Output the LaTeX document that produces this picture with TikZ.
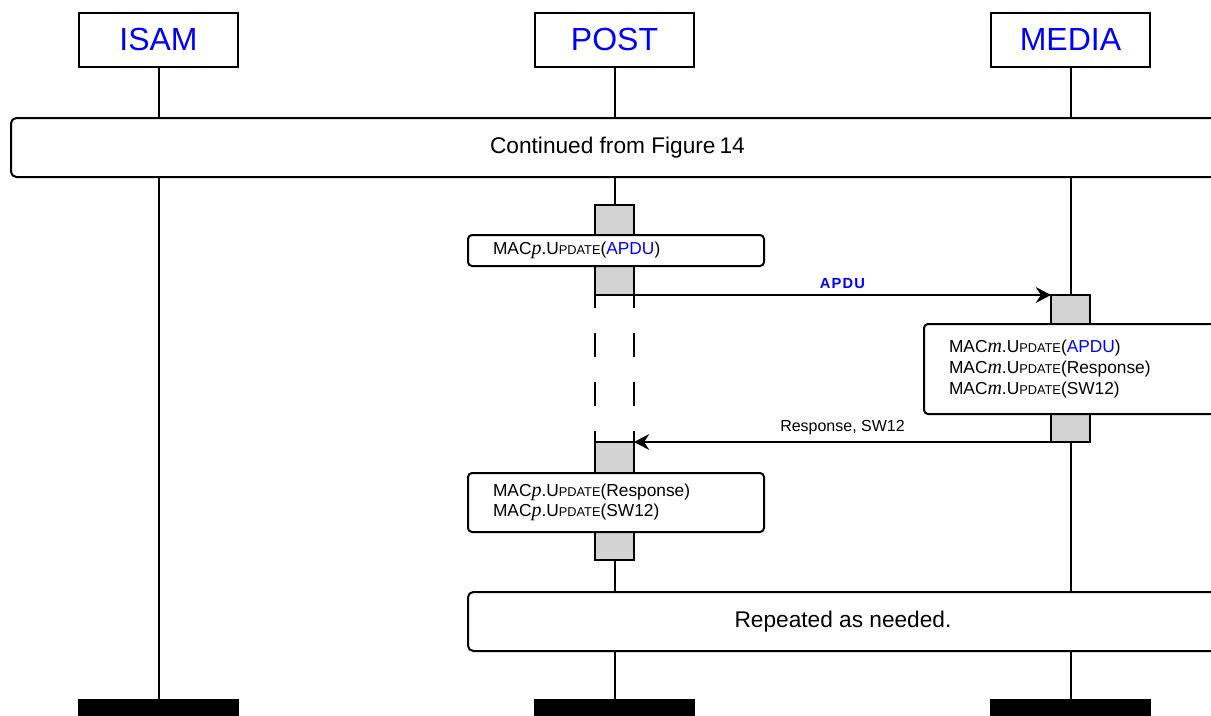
\documentclass[tikz,border=0pt]{standalone}
\usepackage{fontspec}
\setmainfont{Liberation Sans}
\newfontfamily\symfont{Liberation Serif}
\usetikzlibrary{arrows.meta}
\definecolor{hdrblue}{RGB}{0,0,255}
\definecolor{actgray}{RGB}{211,211,211}

% small caps faked with a smaller size (the sans font has no small caps)
\newcommand{\Upd}{U{\fontsize{9.6}{10}\selectfont PDATE}}
\newcommand{\ivar}[1]{{\symfont\itshape\fontsize{15}{15}\selectfont #1}}
\newcommand{\MACp}{MAC\ivar{p}.\Upd}
\newcommand{\MACm}{MAC\ivar{m}.\Upd}

\begin{document}
\begin{tikzpicture}[x=0.75pt,y=-0.75pt,line width=1.5pt,
  head/.style={draw,fill=white,inner sep=0pt,minimum width=119.25pt,minimum height=40.5pt,
    text=hdrblue,font=\fontsize{24}{28}\selectfont},
  endbar/.style={draw,fill=black,inner sep=0pt,minimum width=119.25pt,minimum height=24pt,anchor=north},
  wide/.style={draw,fill=white,rounded corners=4pt,inner sep=0pt,anchor=north west,
    minimum height=44.25pt,font=\fontsize{17}{20}\selectfont},
  note/.style={draw,fill=white,rounded corners=3pt,anchor=north west,align=left,
    inner xsep=18.75pt,inner ysep=0pt,font=\fontsize{13}{15.5}\selectfont},
  act/.style={draw,fill=actgray,inner sep=0pt,outer sep=0pt,minimum width=29.25pt,anchor=north},
  msg/.style={-{Stealth[length=11.5pt,width=12pt,inset=4pt]},line width=1.5pt},
  lbl/.style={font=\fontsize{12}{14}\selectfont,above=1pt}
]
\useasboundingbox (0,0) rectangle (1211,715);
\clip (0,0) rectangle (1211,715);

% lifeline heads and ends
\node[head] (isam)  at (158.5,39.5) {ISAM};
\node[head] (post)  at (614.5,39.5) {POST};
\node[head] (media) at (1070.5,39.5) {MEDIA};
\node[endbar] (isamend)  at (158.5,699) {};
\node[endbar] (postend)  at (614.5,699) {};
\node[endbar] (mediaend) at (1070.5,699) {};

% activation bars
\node[act,minimum height=67.5pt]  (pact1) at (614.5,205) {};
\node[act,minimum height=88.5pt]  (pact2) at (614.5,442) {};
\node[act,minimum height=110.25pt] (mact) at (1070.5,295) {};

% lifelines
\draw (isam.south) -- (isamend.north);
\draw (post.south) -- (pact1.north);
\draw (pact2.south) -- (postend.north);
\draw (media.south) -- (mact.north);
\draw (mact.south) -- (mediaend.north);

% suspended activation on POST
\draw[dash pattern=on 18pt off 18.75pt,dash phase=8.25pt] (pact1.south west) -- (pact2.north west);
\draw[dash pattern=on 18pt off 18.75pt,dash phase=8.25pt] (pact1.south east) -- (pact2.north east);

% frames spanning the lifelines
\node[wide,minimum width=909.75pt] (cont) at (10,117) {Continued from Figure\hspace{0.18em}14};
\node[wide,minimum width=562.5pt] (rep) at (467,591) {Repeated as needed.};

% notes
\node[note,text width=184.5pt,minimum height=23.25pt] (np1) at (467,234)
  {\MACp(\textcolor{hdrblue}{APDU})};
\node[note,text width=187.5pt,minimum height=67.5pt] (nm) at (923,323)
  {\MACm(\textcolor{hdrblue}{APDU})\\ \MACm(Response)\\ \MACm(SW12)};
\node[note,text width=184.5pt,minimum height=44.25pt] (np2) at (467,472)
  {\MACp(Response)\\ \MACp(SW12)};

% messages
\draw[msg] (pact1.south east) -- node[lbl,text=hdrblue,font={\fontsize{11}{13}\selectfont\bfseries\addfontfeature{LetterSpace=8}}] {APDU} (mact.north west);
\draw[msg] (mact.south west) -- node[lbl] {Response, SW12} (pact2.north east);
\end{tikzpicture}
\end{document}
